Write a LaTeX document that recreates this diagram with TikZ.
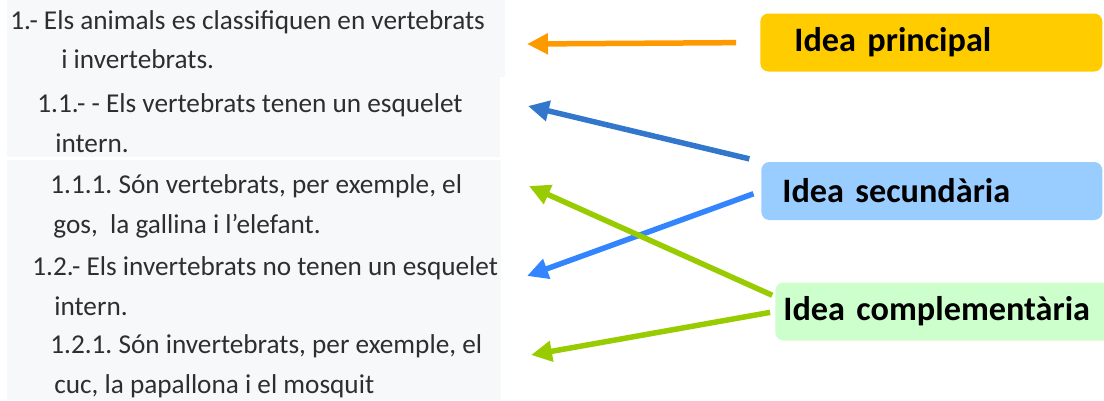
\documentclass[tikz,border=0pt]{standalone}
\usepackage{fontspec}
\setmainfont{Carlito}
\usetikzlibrary{arrows.meta}

\definecolor{panel}{HTML}{F7F8FA}
\definecolor{txt}{HTML}{2E2E2E}
\definecolor{princcol}{HTML}{FFCC00}
\definecolor{seccol}{HTML}{99CCFF}
\definecolor{complcol}{HTML}{CCFFCC}
\definecolor{orangearr}{HTML}{FF9900}
\definecolor{bluearr}{HTML}{3377CC}
\definecolor{lightbluearr}{HTML}{3385FF}
\definecolor{greenarr}{HTML}{99CC00}

\frenchspacing

\begin{document}
\begin{tikzpicture}[x=0.02cm, y=-0.02cm,
        line/.style = {anchor=base west, inner sep=0pt, text=txt, font=\fontsize{15.5}{18}\selectfont},
        idea/.style = {anchor=west, rounded corners=0.16cm, align=left, minimum height=1.16cm, inner ysep=0pt, font=\fontsize{19.5}{24}\selectfont\bfseries},
        arr/.style = {line width=0.11cm, -{Triangle[length=0.42cm, width=0.4cm]}}]

        \useasboundingbox (0,0) rectangle (1104,400);

        % text background
        \fill[panel] (7,0) rectangle (505,77);
        \fill[panel] (7,77) rectangle (500,157);
        \fill[panel] (7,160) rectangle (501,400);

        \node[line] (l1) at (10,29)  {1.- Els animals es classifiquen en vertebrats};
        \node[line] (l2) at (61,68)  {i invertebrats.};
        \node[line] (l3) at (37,112) {1.1.- - Els vertebrats tenen un esquelet};
        \node[line] (l4) at (55,152) {intern.};
        \node[line] (l5) at (50,193) {1.1.1. Són vertebrats, per exemple, el};
        \node[line] (l6) at (53,233) {gos,\ \ la gallina i l’elefant.};
        \node[line] (l7) at (32,275) {1.2.- Els invertebrats no tenen un esquelet};
        \node[line] (l8) at (54,315) {intern.};
        \node[line] (l9) at (50,353) {1.2.1. Són invertebrats, per exemple, el};
        \node[line] (l10) at (54,393) {cuc, la papallona i el mosquit};

        \node[idea, fill=princcol, text width=5.48cm, inner xsep=0.68cm] (princ) at (760,42.5) {Idea principal};
        \node[idea, fill=seccol, text width=5.98cm, inner xsep=0.42cm] (sec) at (761,191) {Idea secundària};
        \node[idea, fill=complcol, text width=6.42cm, inner xsep=0.16cm] (compl) at (775,311.5) {Idea complementària};

        \coordinate (p1) at (527,44);
        \coordinate (p2) at (528,106);
        \coordinate (p3) at (529,186);
        \coordinate (p4) at (527,276);
        \coordinate (p5) at (531,355);

        \draw[arr, orangearr, shorten <=0.48cm] (princ.west) -- (p1);
        \draw[arr, bluearr, shorten <=0.24cm] (sec.north west) -- (p2);
        \draw[arr, lightbluearr, shorten <=0.16cm] (sec.west) -- (p4);
        \draw[arr, greenarr, shorten <=0.06cm] ([yshift=0.3cm]compl.west) -- (p3);
        \draw[arr, greenarr, shorten <=0.1cm] (compl.west) -- (p5);

    \end{tikzpicture}
\end{document}
